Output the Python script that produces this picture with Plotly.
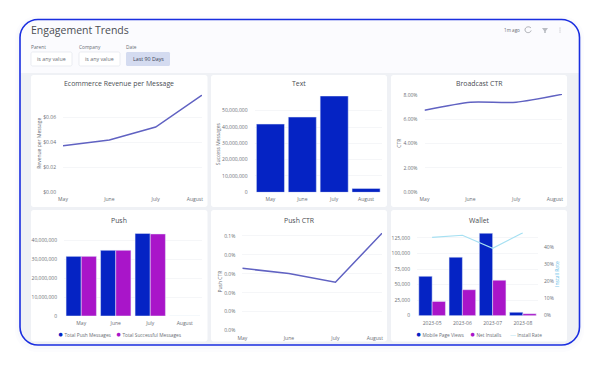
import plotly.graph_objects as go

W, H = 600, 365
FONT = "Open Sans"
TXT = "#6a6e75"
TITLE = "#4a4d53"
GRID = "#f3f4f6"
LINE = "#6062c2"
BLUE = "#0523c4"
PURPLE = "#a915c9"
SKY = "#a6e0f2"

months = ["May", "June", "July", "August"]
wallet_months = ["2023-05", "2023-06", "2023-07", "2023-08"]

revenue_per_message = [0.037, 0.0416, 0.052, 0.0776]
revenue_ticks = [0, 0.02, 0.04, 0.06]
revenue_labels = ["$0.00", "$0.02", "$0.04", "$0.06"]

text_success = [41800000, 46100000, 59000000, 2400000]
text_ticks = [0, 10000000, 20000000, 30000000, 40000000, 50000000]
text_labels = ["0", "10,000,000", "20,000,000", "30,000,000", "40,000,000", "50,000,000"]

broadcast_ctr = [6.75, 7.4, 7.4, 8.05]
broadcast_ticks = [0, 2, 4, 6, 8]
broadcast_labels = ["0.00%", "2.00%", "4.00%", "6.00%", "8.00%"]

push_total = [31700000, 34900000, 43900000, 0]
push_success = [31700000, 34900000, 43600000, 0]
push_ticks = [0, 10000000, 20000000, 30000000, 40000000]
push_labels = ["0", "10,000,000", "20,000,000", "30,000,000", "40,000,000"]

push_ctr = [0.0657, 0.0604, 0.051, 0.1028]
push_ctr_ticks = [0, 0.02, 0.04, 0.06, 0.08, 0.1]
push_ctr_labels = ["0.0%", "0.0%", "0.0%", "0.0%", "0.0%", "0.1%"]

wallet_views = [63300, 94000, 132500, 5500]
wallet_installs = [23000, 41800, 57000, 3200]
install_rate = [45.8, 47, 39.4, 48.5]
wallet_ticks = [0, 25000, 50000, 75000, 100000, 125000]
wallet_labels = ["0", "25,000", "50,000", "75,000", "100,000", "125,000"]
rate_ticks = [0, 10, 20, 30, 40]
rate_labels = ["0%", "10%", "20%", "30%", "40%"]


def px(x):
    return x / W


def py(y):
    return 1 - y / H


def rr(x0, y0, x1, y1, r, top_r=None):
    """Rounded rectangle path in paper coordinates."""
    k = 0.45
    t = r if top_r is None else top_r
    P = lambda a, b: f"{px(a):.5f},{py(b):.5f}"
    return (
        f"M{P(x0 + t, y0)} L{P(x1 - t, y0)} C{P(x1 - t * k, y0)} {P(x1, y0 + t * k)} {P(x1, y0 + t)} "
        f"L{P(x1, y1 - r)} C{P(x1, y1 - r * k)} {P(x1 - r * k, y1)} {P(x1 - r, y1)} "
        f"L{P(x0 + r, y1)} C{P(x0 + r * k, y1)} {P(x0, y1 - r * k)} {P(x0, y1 - r)} "
        f"L{P(x0, y0 + t)} C{P(x0, y0 + t * k)} {P(x0 + t * k, y0)} {P(x0 + t, y0)} Z"
    )


shapes = []
annotations = []


def shape(path, fill=None, line=None, lw=0, layer="below"):
    shapes.append(dict(type="path", xref="paper", yref="paper", path=path, layer=layer,
                       fillcolor=fill or "rgba(0,0,0,0)",
                       line=dict(color=line or "rgba(0,0,0,0)", width=lw)))


def label(x, y, text, size=5, color=TXT, anchor="left", family=FONT):
    annotations.append(dict(x=px(x), y=py(y), xref="paper", yref="paper", text=text, showarrow=False,
                            xanchor=anchor, yanchor="middle", align=anchor,
                            font=dict(size=size, color=color, family=family), borderpad=0, borderwidth=0))


# Dashboard frame with its soft outer shadow
shape(rr(15, 16, 584, 352, 22), fill="#fcfcfe")
shape(rr(17, 18, 582, 349, 20), fill="#f8f9fc")
shape(rr(20, 19.5, 579.5, 345, 18), fill="#fbfbfe")
shape(rr(20, 73, 579.5, 345, 18, top_r=0.01), fill="#eff1f5")
for x0, x1 in [(31, 207.5), (211, 387), (391, 567)]:
    shape(rr(x0, 75, x1, 207, 2.5), fill="#ffffff")
    shape(rr(x0, 210, x1, 341.5, 2.5), fill="#ffffff")

# Header
label(31, 30, "Engagement Trends", size=10.5, color=TITLE)
for x, t in [(31, "Parent"), (79, "Company"), (126, "Date")]:
    label(x, 47, t, size=4.8)
for x0, x1, t in [(31, 72, "is any value"), (79, 120, "is any value")]:
    shape(rr(x0, 52, x1, 66, 1.5), fill="#ffffff", line="#e3e5ec", lw=0.7)
    label((x0 + x1) / 2, 59, t, size=5.3, anchor="center")
shape(rr(126, 52, 170, 66, 1.5), fill="#d4dbf0")
label(148, 59, "Last 90 Days", size=5.3, color="#3c4356", anchor="center")
label(512, 30, "1m ago", size=4.6, anchor="center")
P = lambda a, b: f"{px(a):.5f},{py(b):.5f}"
shape(f"M{P(531, 28)} C{P(529, 25.7)} {P(524.8, 27)} {P(525, 30)} C{P(525.2, 33)} {P(530, 33.8)} {P(531.2, 30.5)}",
      line="#9a9da3", lw=0.8, layer="above")
shape(f"M{P(542, 28)} L{P(548, 28)} L{P(545.8, 31)} L{P(545.8, 33)} L{P(544.2, 33)} L{P(544.2, 31)} Z", fill="#b9bcc2", layer="above")
for y in (28, 30, 32):
    shapes.append(dict(type="circle", xref="paper", yref="paper", x0=px(559.5), x1=px(560.5), y0=py(y + 0.5), y1=py(y - 0.5),
                       fillcolor="#a3a6ac", line=dict(width=0), layer="above"))


fig = go.Figure()


def tick_font():
    return dict(size=5, color=TXT, family=FONT)


def set_axes(n, x0, x1, y_top, y_bottom, ymax, yticks, ylabels, xlabels, xrange, title=None, standoff=1, ytick_gap=6):
    xs = "" if n == 1 else str(n)
    fig.update_layout({
        f"xaxis{xs}": dict(domain=[px(x0), px(x1)], anchor=f"y{xs}", type="category", range=xrange,
                           categoryorder="array", tickmode="array",
                           tickvals=xlabels["vals"], ticktext=xlabels["text"],
                           showgrid=False, zeroline=False, showline=False, ticks="", ticklabelstandoff=3,
                           tickfont=tick_font(), fixedrange=True, automargin=False),
        f"yaxis{xs}": dict(domain=[py(y_bottom), py(y_top)], anchor=f"x{xs}", range=[0, ymax], tickmode="array",
                           tickvals=yticks, ticktext=ylabels, gridcolor=GRID, gridwidth=0.8, zeroline=False,
                           showline=False, ticks="", ticklabelstandoff=ytick_gap, tickfont=tick_font(),
                           automargin=True, fixedrange=True,
                           title=dict(text=title, font=dict(size=5, color=TXT, family=FONT), standoff=standoff) if title else None),
    })


def card_title(cx, y, text):
    label(cx, y, text, size=6.9, color=TITLE, anchor="center")


def legend_item(x, y, color, text, key="●", key_size=8.5):
    label(x, y, f'<span style="color:{color};font-size:{key_size}px">{key}</span> {text}', size=4.8)


edge_labels = dict(vals=months, text=["May", "June", "July", "August\u00a0\u00a0\u00a0\u00a0\u00a0\u00a0\u00a0\u00a0\u00a0\u00a0\u00a0"])
band_labels = dict(vals=months, text=months)

line_style = dict(color=LINE, width=1.5)

# 1 Ecommerce revenue
fig.add_trace(go.Scatter(x=months, y=revenue_per_message, mode="lines", line=line_style, xaxis="x", yaxis="y", hoverinfo="skip"))
set_axes(1, 63, 202, 94.5, 192, 0.078, revenue_ticks, revenue_labels, edge_labels, [0, 3], title="Revenue per Message")
card_title(119, 83.5, "Ecommerce Revenue per Message")

# 2 Text
fig.add_trace(go.Bar(x=months, y=text_success, marker=dict(color=BLUE), xaxis="x2", yaxis="y2", hoverinfo="skip"))
set_axes(2, 254.5, 382, 96, 192.3, 59000000, text_ticks, text_labels, band_labels, [-0.5, 3.5], title="Success Messages")
card_title(299, 83.5, "Text")

# 3 Broadcast CTR
fig.add_trace(go.Scatter(x=months, y=broadcast_ctr, mode="lines", line=dict(color=LINE, width=1.5, shape="spline", smoothing=0.6),
                         xaxis="x3", yaxis="y3", hoverinfo="skip"))
set_axes(3, 424.5, 562, 94, 192.3, 8.08, broadcast_ticks, broadcast_labels, edge_labels, [0, 3], title="CTR")
card_title(479, 83.5, "Broadcast CTR")

# 4 Push
fig.add_trace(go.Bar(x=months, y=push_total, marker=dict(color=BLUE), xaxis="x4", yaxis="y4", hoverinfo="skip"))
fig.add_trace(go.Bar(x=months, y=push_success, marker=dict(color=PURPLE), xaxis="x4", yaxis="y4", hoverinfo="skip"))
set_axes(4, 64, 202, 233, 316, 44100000, push_ticks, push_labels, band_labels, [-0.5, 3.5])
card_title(119, 221, "Push")
legend_item(57.5, 333.5, BLUE, "Total Push Messages")
legend_item(116, 333.5, PURPLE, "Total Successful Messages")

# 5 Push CTR
fig.add_trace(go.Scatter(x=months, y=push_ctr, mode="lines", line=line_style, xaxis="x5", yaxis="y5", hoverinfo="skip"))
set_axes(5, 242.3, 382, 232.5, 330.7, 0.1035, push_ctr_ticks, push_ctr_labels, edge_labels, [0, 3], title="Push CTR")
card_title(299, 221, "Push CTR")

# 6 Wallet
fig.add_trace(go.Bar(x=wallet_months, y=wallet_views, marker=dict(color=BLUE), xaxis="x6", yaxis="y6", hoverinfo="skip"))
fig.add_trace(go.Bar(x=wallet_months, y=wallet_installs, marker=dict(color=PURPLE), xaxis="x6", yaxis="y6", hoverinfo="skip"))
fig.add_trace(go.Scatter(x=wallet_months, y=install_rate, mode="lines", line=dict(color=SKY, width=1.2), xaxis="x6", yaxis="y7", hoverinfo="skip"))
set_axes(6, 417, 538, 232.5, 315.7, 133700, wallet_ticks, wallet_labels,
         dict(vals=wallet_months, text=wallet_months), [-0.5, 3.5])
fig.update_layout(yaxis7=dict(overlaying="y6", side="right", anchor="x6", range=[0, 48.6], tickmode="array",
                              tickvals=rate_ticks, ticktext=rate_labels, showgrid=False, zeroline=False, ticks="",
                              ticklabelstandoff=5, tickfont=tick_font(), fixedrange=True, automargin=True,
                              title=dict(text="Install Rate", font=dict(size=5, color="#62bde8", family=FONT), standoff=2)))
card_title(479, 221, "Wallet")
legend_item(416, 333.5, BLUE, "Mobile Page Views")
legend_item(470, 333.5, PURPLE, "Net Installs")
legend_item(509.5, 334.5, SKY, "Install Rate", key="—", key_size=6)

# Outer border on top of everything
shape(rr(20, 19.5, 579.5, 345, 18), line="#1a2ee0", lw=1.6, layer="above")

fig.update_layout(
    width=W, height=H, margin=dict(l=0, r=0, t=0, b=0, pad=0, autoexpand=False),
    paper_bgcolor="#ffffff", plot_bgcolor="rgba(0,0,0,0)",
    showlegend=False, barmode="group", bargap=0.12, bargroupgap=0, shapes=shapes, annotations=annotations,
    font=dict(family=FONT, color=TXT),
)

fig.write_html("out.html", config=dict(displayModeBar=False, staticPlot=True),
               post_script="document.body.style.margin='0';")
